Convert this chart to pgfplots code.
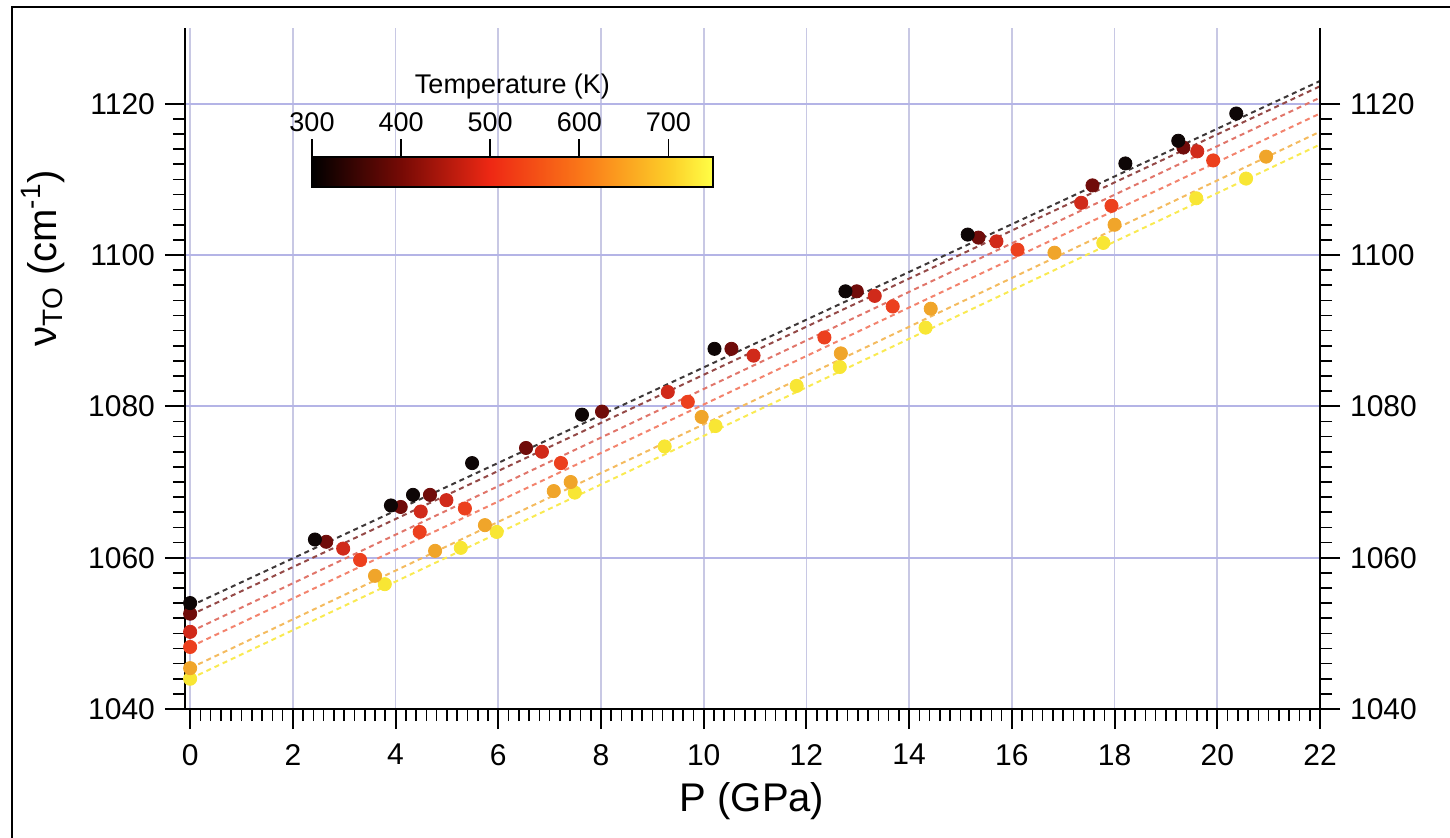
\documentclass[border=0pt]{standalone}
\usepackage{pgfplots}
\usepackage{pgfplotstable}
\pgfplotsset{compat=1.18}
\usepackage{fontspec}
\setmainfont{Liberation Sans}
\usetikzlibrary{calc}

\definecolor{gridh}{RGB}{180,180,230}
\definecolor{gridv}{RGB}{200,200,228}
\definecolor{cA}{RGB}{14,6,6}
\definecolor{cB}{RGB}{112,12,10}
\definecolor{cC}{RGB}{208,42,26}
\definecolor{cD}{RGB}{236,64,30}
\definecolor{cE}{RGB}{240,165,42}
\definecolor{cF}{RGB}{248,230,52}

\pgfplotsset{
  colormap={heat}{rgb255(0pt)=(0,0,0); rgb255(1pt)=(118,10,5); rgb255(2pt)=(238,40,20);
    rgb255(3pt)=(250,118,24); rgb255(4pt)=(252,205,40); rgb255(4.5pt)=(255,255,70)},
  frame/.style={scale only axis, width=567.5pt, height=340.5pt,
    xmin=-0.1, xmax=22, ymin=1040, ymax=1130,
    tick align=outside, major tick length=10pt, minor tick length=6pt,
    every major tick/.append style={line width=1pt, black},
    every minor tick/.append style={line width=0.8pt, black},
    axis line style={line width=1pt},
    ytick={1040,1060,...,1120}, minor y tick num=9,
    tick label style={font=\fontsize{15}{18}\selectfont},
    /pgf/number format/assume math mode=true,
    /pgf/number format/1000 sep={}},
  pts/.style={only marks, mark=*, mark size=3.3pt, mark options={draw=#1, fill=#1}},
  fit/.style={draw=#1, line width=1pt, dash pattern=on 2.5pt off 2pt, mark=none},
}

% pressure (GPa) vs TO frequency (cm^-1), one table per temperature
\pgfplotstableread{
P v
0 1054.0
2.43 1062.4
3.91 1066.9
4.34 1068.3
5.49 1072.5
7.63 1078.9
10.21 1087.6
12.76 1095.2
15.14 1102.7
18.21 1112.1
19.24 1115.1
20.37 1118.7
}\tA
\pgfplotstableread{
P v
0 1052.6
2.65 1062.1
4.10 1066.7
4.67 1068.3
6.54 1074.5
8.02 1079.3
10.54 1087.6
12.98 1095.2
15.35 1102.3
17.57 1109.2
19.34 1114.2
}\tB
\pgfplotstableread{
P v
0 1050.2
2.98 1061.2
4.49 1066.1
4.99 1067.6
6.85 1074.0
9.30 1081.9
10.97 1086.7
13.33 1094.6
15.70 1101.8
17.35 1106.9
19.61 1113.7
}\tC
\pgfplotstableread{
P v
0 1048.2
3.31 1059.7
4.47 1063.4
5.35 1066.5
7.22 1072.5
9.69 1080.6
12.35 1089.1
13.68 1093.2
16.11 1100.7
17.94 1106.5
19.92 1112.5
}\tD
\pgfplotstableread{
P v
0 1045.4
3.60 1057.6
4.77 1060.9
5.74 1064.3
7.08 1068.8
7.41 1070.0
9.96 1078.6
12.67 1087.0
14.42 1092.9
16.83 1100.3
18.00 1104.0
20.95 1113.0
}\tE
\pgfplotstableread{
P v
0 1044.0
3.79 1056.5
5.27 1061.3
5.97 1063.4
7.49 1068.6
9.24 1074.7
10.23 1077.4
11.81 1082.7
12.65 1085.2
14.32 1090.4
17.78 1101.6
19.59 1107.5
20.56 1110.1
}\tF

\begin{document}
\begin{tikzpicture}
\useasboundingbox (-92.5pt,-64pt) rectangle (632.5pt,354.5pt);
\draw[line width=1.3pt] (-86.5pt,-80pt) -- (-86.5pt,351pt) -- (650pt,351pt);

\begin{axis}[frame, at={(0,0)}, anchor=south west,
  name=main,
  axis x line*=bottom, axis y line*=left,
  xtick={0,2,...,22}, minor x tick num=9,
  xmajorgrids, ymajorgrids,
  x grid style={gridv, line width=0.8pt},
  y grid style={gridh, line width=0.9pt},
  xticklabel style={yshift=-4pt},
  yticklabel style={xshift=-1.5pt},
  xlabel={P (GPa)},
  ylabel={ν\textsubscript{TO} (cm\textsuperscript{-1})},
  label style={font=\fontsize{20}{24}\selectfont},
  xlabel style={at={(axis description cs:0.4996,-0.1356)}, anchor=center},
  ylabel style={at={(axis description cs:-0.1251,0.6623)}, anchor=center},
  colormap name=heat, point meta min=300, point meta max=750,
  colorbar horizontal,
  colorbar style={
    at={($(main.south west)+(63.5pt,269.5pt)$)}, anchor=south west,
    scale only axis, width=200.5pt, height=15pt,
    xtick={300,400,...,700}, xtick pos=right, xticklabel pos=right,
    tick align=outside, major tick length=9pt,
    every major tick/.append style={line width=0.9pt, black},
    axis line style={line width=1.1pt},
    tick label style={font=\fontsize{13.5}{16}\selectfont},
    xlabel={Temperature (K)},
    xlabel style={font=\fontsize{13.5}{16}\selectfont},
    /pgf/number format/assume math mode=true,
  },
]
\addplot[fit=cA!80!white] coordinates {(0,1053.6) (22,1123.0)};
\addplot[fit=cB!75!white] coordinates {(0,1052.4) (22,1122.3)};
\addplot[fit=cC!65!white] coordinates {(0,1050.2) (22,1120.8)};
\addplot[fit=cD!65!white] coordinates {(0,1048.2) (22,1118.7)};
\addplot[fit=cE!75!white] coordinates {(0,1045.4) (22,1116.3)};
\addplot[fit=cF!85!white] coordinates {(0,1044.0) (22,1114.6)};

\addplot[pts=cF] table[x=P, y=v] {\tF};
\addplot[pts=cE] table[x=P, y=v] {\tE};
\addplot[pts=cD] table[x=P, y=v] {\tD};
\addplot[pts=cC] table[x=P, y=v] {\tC};
\addplot[pts=cB] table[x=P, y=v] {\tB};
\addplot[pts=cA] table[x=P, y=v] {\tA};
\end{axis}

\begin{axis}[frame, at={(0,0)}, anchor=south west,
  axis x line=none, axis y line*=right,
  yticklabel style={xshift=1.5pt},
]
\end{axis}
\end{tikzpicture}
\end{document}
